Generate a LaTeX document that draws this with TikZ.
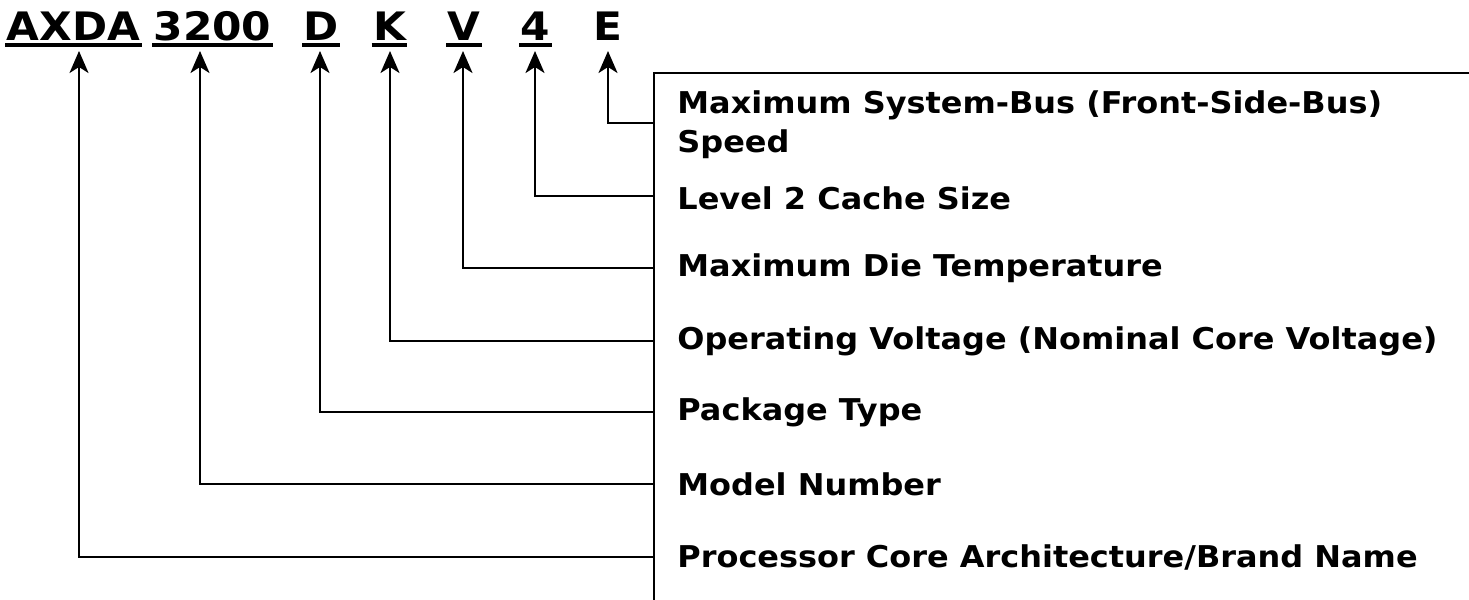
\documentclass[tikz,border=0pt]{standalone}
\usepackage{fontspec}
\setmainfont{DejaVu Sans}
\newfontfamily\ttlfont[FakeStretch=1.08]{DejaVu Sans}
\newfontfamily\lblfont[FakeStretch=1.065]{DejaVu Sans}
\usetikzlibrary{arrows.meta}
\begin{document}
\begin{tikzpicture}[x=0.5pt,y=-0.5pt,
  lbl/.style={anchor=west, inner xsep=11.5pt, inner ysep=0pt, font=\lblfont\fontsize{15}{19.5}\selectfont\bfseries, align=left},
  ttl/.style={anchor=base, inner sep=0pt, font=\ttlfont\fontsize{19.6}{23}\selectfont\bfseries},
  conn/.style={line width=1.1pt, -{Stealth[length=11pt,width=9.5pt,inset=3pt]}},
  uline/.style={line width=2pt},
  frame/.style={line width=1.1pt}]
\useasboundingbox (0,0) rectangle (1469,600);
% title parts
\node[ttl] (tA) at (73.5,40) {AXDA};
\node[ttl] (tM) at (212.5,40) {3200};
\node[ttl] (tD) at (321,40) {D};
\node[ttl] (tK) at (389.5,40) {K};
\node[ttl] (tV) at (464,40) {V};
\node[ttl] (t4) at (535.5,40) {4};
\node[ttl] (tE) at (607.5,40) {E};
\foreach \n in {tA,tM,tD,tK,tV,t4}
  \draw[uline] ([shift={(-1,5)}]\n.base west) -- ([shift={(1,5)}]\n.base east);
% arrow tips
\coordinate (pA) at (79,51);
\coordinate (pM) at (200,51);
\coordinate (pD) at (320,51);
\coordinate (pK) at (390,51);
\coordinate (pV) at (463,51);
\coordinate (p4) at (535,51);
\coordinate (pE) at (608,51);
% frame
\coordinate (fr) at (1469,73);
\coordinate (fc) at (654,73);
\coordinate (fb) at (654,600);
\draw[frame] (fr) -- (fc) -- (fb);
% labels
\node[lbl] (lE) at (654,125) {Maximum System-Bus (Front-Side-Bus)\\Speed};
\node[lbl] (l4) at (654,198) {Level 2 Cache Size};
\node[lbl] (lV) at (654,268) {Maximum Die Temperature};
\node[lbl] (lK) at (654,341) {Operating Voltage (Nominal Core Voltage)};
\node[lbl] (lD) at (654,412) {Package Type};
\node[lbl] (lM) at (654,484) {Model Number};
\node[lbl] (lA) at (654,557) {Processor Core Architecture/Brand Name};
% connectors
\draw[conn] ([yshift=1pt]lE.west) -| (pE);
\draw[conn] ([yshift=1pt]l4.west) -| (p4);
\draw[conn] (lV.west) -| (pV);
\draw[conn] (lK.west) -| (pK);
\draw[conn] (lD.west) -| (pD);
\draw[conn] (lM.west) -| (pM);
\draw[conn] (lA.west) -| (pA);
\end{tikzpicture}
\end{document}
